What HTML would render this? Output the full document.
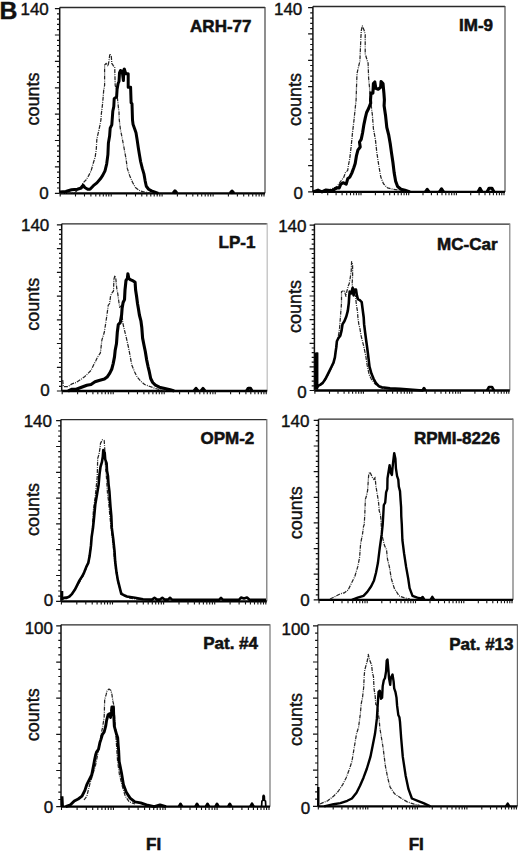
<!DOCTYPE html><html><head><meta charset="utf-8"><style>html,body{margin:0;padding:0;background:#fff;overflow:hidden;}svg{display:block}text{font-family:"Liberation Sans",sans-serif;fill:#111;stroke:#111;stroke-width:0.4px}</style></head><body>
<svg width="520" height="853" viewBox="0 0 520 853">
<text x="-0.5" y="19.2" style="font-weight:bold;font-size:24.8px">B</text>
<g><path d="M59.7 7.5H265" fill="none" stroke="#2a2a2a" stroke-width="1.3"/><path d="M265 6.9V193.3" fill="none" stroke="#444" stroke-width="1.2"/><path d="M59.7 193.3H265" stroke="#000" stroke-width="2.3"/><path d="M59.7 193.3V7.5" stroke="#111" stroke-width="1.5"/><path d="M54.9 193.3H59.7M57 188H59.7M57 182.7H59.7M57 177.5H59.7M57 172.2H59.7M54.9 166.9H59.7M57 161.6H59.7M57 156.4H59.7M57 151.1H59.7M57 145.8H59.7M54.9 140.5H59.7M57 135.3H59.7M57 130H59.7M57 124.7H59.7M57 119.4H59.7M54.9 114.1H59.7M57 108.9H59.7M57 103.6H59.7M57 98.3H59.7M57 93H59.7M54.9 87.8H59.7M57 82.5H59.7M57 77.2H59.7M57 71.9H59.7M57 66.6H59.7M54.9 61.4H59.7M57 56.1H59.7M57 50.8H59.7M57 45.5H59.7M57 40.3H59.7M54.9 35H59.7M57 29.7H59.7M57 24.4H59.7M57 19.2H59.7M57 13.9H59.7M54.9 8.6H59.7" stroke="#111" stroke-width="1.2"/><path d="M60.2 193.3v3.3M75.5 193.3v3.3M84.5 193.3v3.3M90.9 193.3v3.3M95.8 193.3v3.3M99.8 193.3v3.3M103.3 193.3v3.3M106.2 193.3v3.3M108.8 193.3v3.3M111.2 193.3v3.3M126.5 193.3v3.3M135.5 193.3v3.3M141.8 193.3v3.3M146.8 193.3v3.3M150.8 193.3v3.3M154.2 193.3v3.3M157.2 193.3v3.3M159.8 193.3v3.3M162.1 193.3v3.3M177.4 193.3v3.3M186.4 193.3v3.3M192.8 193.3v3.3M197.7 193.3v3.3M201.7 193.3v3.3M205.2 193.3v3.3M208.1 193.3v3.3M210.7 193.3v3.3M213.1 193.3v3.3M228.4 193.3v3.3M237.4 193.3v3.3M243.7 193.3v3.3M248.7 193.3v3.3M252.7 193.3v3.3M256.1 193.3v3.3M259.1 193.3v3.3M261.7 193.3v3.3M264 193.3v3.3" stroke="#111" stroke-width="1.1"/><polyline points="60,193.3 70,193 75,192.5 80,188 83.1,182.9 86,180 88.8,175.4 91.1,170.8 93.4,162.7 95.2,156.9 96.3,148.8 96.9,138.5 98.6,131.5 99.8,125.8 100.9,120 101.3,114.2 102.7,102.7 103.7,90.2 104.6,85.4 104.6,65.2 106.1,63.3 108,66.2 108.9,61.3 109.9,53.7 111.3,56.5 111.8,63.3 113.3,65.7 114.7,67.1 115.2,85.4 116.6,90.2 118.1,104.6 119,112.3 119.3,120 120.4,129.2 122.7,140.8 124.4,150 126.1,159.2 127.3,168.4 129.6,175.4 132.5,182.3 135.4,187.5 140,190.9 144.6,192.1 150,193" fill="none" stroke="#262626" stroke-width="1.25" stroke-dasharray="4 1.1 0.9 1.1" stroke-linejoin="round"/><path d="M60 192.1L65.8 191.5L71.5 189.8L77.3 189.2L81.3 188L83.1 185.2L84.8 187.5L87.7 189.2L90 189.2L93.4 185.7L96.9 182.9L100.4 178.8L102.7 175.4L105 170.8L106.7 163.8L107.9 154.6L108.4 143.1L109.6 136.1L110.2 128.1L111.8 124.8L112.8 111.3L113.8 106.5L114.2 98.8L116.6 96.9L117.1 89.2L118.1 83.5L119 81.5L119.5 72.9L120.5 70.5L122.4 72.9L123.4 80.6L123.8 70L124.3 69L125.8 73.8L128.2 73.8L128.2 87.3L130.6 87.3L131.1 102.7L132 103.7L132.5 120L133.1 124.6L134.8 129.2L136 132.7L137.1 139.6L138.3 147.7L139.4 154.6L140.6 161.5L142.3 168.4L144 174.2L145.2 181.1L146.3 186.3L148.6 189.2L151.5 190.9L155 192.1L158.4 193.3M173 193.3L175 190.8L177 193.3M230 193.3L232 191L234 193.3" fill="none" stroke="#000" stroke-width="3.0" stroke-linejoin="round"/><text x="251.5" y="31.6" text-anchor="end" style="font-weight:bold;font-size:17px;stroke-width:0.55px">ARH-77</text><text x="48.8" y="15" text-anchor="end" style="font-size:17px">140</text><text x="48.8" y="199" text-anchor="end" style="font-size:17px">0</text><text transform="translate(38.8,99) rotate(-90)" text-anchor="middle" style="font-size:18px">counts</text></g>
<g><path d="M312.9 6.5H505" fill="none" stroke="#2a2a2a" stroke-width="1.3"/><path d="M505 5.9V191.9" fill="none" stroke="#505050" stroke-width="1.2"/><path d="M312.9 191.9H505" stroke="#000" stroke-width="2.3"/><path d="M312.9 191.9V6.5" stroke="#111" stroke-width="1.5"/><path d="M308.1 191.9H312.9M310.2 186.6H312.9M310.2 181.4H312.9M310.2 176.1H312.9M310.2 170.8H312.9M308.1 165.6H312.9M310.2 160.3H312.9M310.2 155H312.9M310.2 149.8H312.9M310.2 144.5H312.9M308.1 139.2H312.9M310.2 134H312.9M310.2 128.7H312.9M310.2 123.4H312.9M310.2 118.2H312.9M308.1 112.9H312.9M310.2 107.6H312.9M310.2 102.4H312.9M310.2 97.1H312.9M310.2 91.9H312.9M308.1 86.6H312.9M310.2 81.3H312.9M310.2 76.1H312.9M310.2 70.8H312.9M310.2 65.5H312.9M308.1 60.3H312.9M310.2 55H312.9M310.2 49.7H312.9M310.2 44.5H312.9M310.2 39.2H312.9M308.1 33.9H312.9M310.2 28.7H312.9M310.2 23.4H312.9M310.2 18.1H312.9M310.2 12.9H312.9M308.1 7.6H312.9" stroke="#111" stroke-width="1.2"/><path d="M313.4 191.9v3.3M327.7 191.9v3.3M336.1 191.9v3.3M342.1 191.9v3.3M346.7 191.9v3.3M350.5 191.9v3.3M353.7 191.9v3.3M356.4 191.9v3.3M358.9 191.9v3.3M361 191.9v3.3M375.4 191.9v3.3M383.8 191.9v3.3M389.7 191.9v3.3M394.4 191.9v3.3M398.1 191.9v3.3M401.3 191.9v3.3M404.1 191.9v3.3M406.5 191.9v3.3M408.7 191.9v3.3M423 191.9v3.3M431.4 191.9v3.3M437.4 191.9v3.3M442 191.9v3.3M445.8 191.9v3.3M449 191.9v3.3M451.7 191.9v3.3M454.2 191.9v3.3M456.4 191.9v3.3M470.7 191.9v3.3M479.1 191.9v3.3M485 191.9v3.3M489.7 191.9v3.3M493.4 191.9v3.3M496.6 191.9v3.3M499.4 191.9v3.3M501.8 191.9v3.3M504 191.9v3.3" stroke="#111" stroke-width="1.1"/><polyline points="313,191 320,190.8 330,189.5 335.4,187.3 337,186.5 340.8,181.2 343.8,177.3 345.4,172.7 347.7,170.4 348.5,165 349.8,158.3 351.2,146.1 352.5,132.7 353.8,121.9 355.2,108.5 356.1,99.8 356.5,87.3 357,73.8 358,69 358.9,65.2 359.9,61.3 360.4,48.8 360.9,37.3 361.3,30.6 362.3,25.8 364.2,30.6 365.2,34.4 365.2,53.7 366.6,58.5 368.1,63.3 368.6,77.7 369.5,87.3 370.5,99.8 372.4,115.2 373.4,128.6 375.4,139.4 376.7,151.5 378.7,165 380.8,177.1 383.5,183.8 387.5,187.9 392.9,189.2 398.3,189.9 405,190.5" fill="none" stroke="#262626" stroke-width="1.25" stroke-dasharray="4 1.1 0.9 1.1" stroke-linejoin="round"/><path d="M313 191.9L318 190.1L322 191.9L326 190L330 190.6L333 190.2L337 187.9L339.2 188L340.8 184.2L343 182.7L346.2 184.2L347.7 178.8L349.8 177.1L351.8 173.1L353.8 167.7L355.2 163.6L356.5 155.6L357.9 150.2L360.2 147L359.5 142L361.2 139.4L362.6 132.7L363.9 124.6L365.3 117.9L366.6 112.5L368.6 108.5L370.7 103.1L370.5 99.8L371 93.1L372.9 93.1L373.4 83.5L374.8 82L375.8 88.3L378.2 89.2L380.6 87.3L381.1 81.5L383 83.5L383.9 93.1L384.4 99.8L384.1 105.8L385.5 115.2L386.8 127.3L388.8 135.4L390.2 143.5L391.5 152.9L392.9 162.3L394.2 173.1L395.6 181.1L397.6 186.5L401 189.2L405 190.2L410 191.9M425.5 191.9L427.2 189.3L429 191.9M439.5 191.9L441.5 188.8L443.5 191.9M478 191.9L480 188.3L482 191.9M487 191.9L489 188.3L492 188.3L494 191.9" fill="none" stroke="#000" stroke-width="3.1" stroke-linejoin="round"/><text x="493" y="30.8" text-anchor="end" style="font-weight:bold;font-size:17px;stroke-width:0.55px">IM-9</text><text x="302.3" y="15.4" text-anchor="end" style="font-size:17px">140</text><text x="303" y="199.4" text-anchor="end" style="font-size:17px">0</text><text transform="translate(301.3,99.6) rotate(-90)" text-anchor="middle" style="font-size:18px">counts</text></g>
<g><path d="M61.7 223.8H267.2" fill="none" stroke="#2a2a2a" stroke-width="1.3"/><path d="M267.2 223.2V391" fill="none" stroke="#bbb" stroke-width="1.2"/><path d="M61.7 391H267.2" stroke="#000" stroke-width="2.3"/><path d="M61.7 391V223.8" stroke="#111" stroke-width="1.5"/><path d="M56.9 391H61.7M59 386.3H61.7M59 381.5H61.7M59 376.8H61.7M59 372H61.7M56.9 367.3H61.7M59 362.5H61.7M59 357.8H61.7M59 353H61.7M59 348.3H61.7M56.9 343.5H61.7M59 338.8H61.7M59 334.1H61.7M59 329.3H61.7M59 324.6H61.7M56.9 319.8H61.7M59 315.1H61.7M59 310.3H61.7M59 305.6H61.7M59 300.8H61.7M56.9 296.1H61.7M59 291.3H61.7M59 286.6H61.7M59 281.8H61.7M59 277.1H61.7M56.9 272.4H61.7M59 267.6H61.7M59 262.9H61.7M59 258.1H61.7M59 253.4H61.7M56.9 248.6H61.7M59 243.9H61.7M59 239.1H61.7M59 234.4H61.7M59 229.6H61.7M56.9 224.9H61.7" stroke="#111" stroke-width="1.2"/><path d="M62.2 391v3.3M77.6 391v3.3M86.5 391v3.3M92.9 391v3.3M97.8 391v3.3M101.9 391v3.3M105.3 391v3.3M108.3 391v3.3M110.9 391v3.3M113.2 391v3.3M128.6 391v3.3M137.5 391v3.3M143.9 391v3.3M148.8 391v3.3M152.9 391v3.3M156.3 391v3.3M159.3 391v3.3M161.9 391v3.3M164.2 391v3.3M179.6 391v3.3M188.5 391v3.3M194.9 391v3.3M199.8 391v3.3M203.9 391v3.3M207.3 391v3.3M210.3 391v3.3M212.9 391v3.3M215.2 391v3.3M230.6 391v3.3M239.5 391v3.3M245.9 391v3.3M250.8 391v3.3M254.9 391v3.3M258.3 391v3.3M261.3 391v3.3M263.9 391v3.3M266.2 391v3.3" stroke="#111" stroke-width="1.1"/><polyline points="62.7,380 63.3,386.5 68.1,386.5 72.1,383.8 76.2,382.5 80.2,379.8 84.2,377.1 88.3,373.1 91,370.4 93.6,365 95.7,361 97.7,356.9 100.4,352.9 101.9,340 104.3,332.3 105.8,322.7 107.2,313.1 108.2,305.4 109.6,303.5 110.6,295.8 112,292.9 113.5,291 113.9,279.4 114.9,275.6 115.9,279.4 116.8,289 117.8,293.8 118.8,301.5 119.7,307.3 121.6,305.4 122.6,321.7 123.6,326.5 125,332.3 126.4,338.1 128.5,347.5 129.8,354.2 131.8,365 134.5,371.7 137.2,377.1 140.6,381.1 144.6,384.5 150,386.5 155.4,388.5 160.8,389.9 166,390.5" fill="none" stroke="#262626" stroke-width="1.25" stroke-dasharray="4 1.1 0.9 1.1" stroke-linejoin="round"/><path d="M68.1 391L72.1 389.2L76.2 389.2L81.5 387.2L86.9 385.2L91 384.5L95 381.8L99 380.5L104.4 379.1L107.1 377.1L109.8 373.1L111.8 369L113.2 363.6L114.5 356.9L115.2 350.2L116.5 343.5L117.3 332.3L118.3 324.6L120.2 322.7L121.6 315L122.1 308.3L123.1 302.5L124.5 299.6L125 290L126 280.4L127.4 278.5L127.9 273.7L128.8 278.5L130.8 279.9L133.2 280.9L135.1 282.3L135.6 290L136.5 295.8L137.5 303.5L138.5 309.2L139.4 315L140.9 320.8L141.8 327.5L142.6 338.1L143.9 344.8L145.3 351.5L146.6 359.6L148 366.3L149.3 371.7L150.7 378.5L152.7 382.5L155.4 385.2L159.4 387.2L164.8 388.5L170.2 389.7L174.2 391M194 391L196 388.3L198 391M201 391L203 388.5L205 391M246.5 391L248.3 388.2L250.5 388.2L252 391" fill="none" stroke="#000" stroke-width="3.1" stroke-linejoin="round"/><text x="255.4" y="248" text-anchor="end" style="font-weight:bold;font-size:17px;stroke-width:0.55px">LP-1</text><text x="49.3" y="230.9" text-anchor="end" style="font-size:17px">140</text><text x="49.8" y="396.2" text-anchor="end" style="font-size:17px">0</text><text transform="translate(38.8,304.3) rotate(-90)" text-anchor="middle" style="font-size:18px">counts</text></g>
<g><path d="M314.4 224.1H509.8" fill="none" stroke="#2a2a2a" stroke-width="1.3"/><path d="M509.8 223.5V390.5" fill="none" stroke="#808080" stroke-width="1.2"/><path d="M314.4 390.5H509.8" stroke="#000" stroke-width="2.3"/><path d="M314.4 390.5V224.1" stroke="#111" stroke-width="1.5"/><path d="M309.6 390.5H314.4M311.7 385.8H314.4M311.7 381.1H314.4M311.7 376.3H314.4M311.7 371.6H314.4M309.6 366.9H314.4M311.7 362.2H314.4M311.7 357.4H314.4M311.7 352.7H314.4M311.7 348H314.4M309.6 343.3H314.4M311.7 338.5H314.4M311.7 333.8H314.4M311.7 329.1H314.4M311.7 324.4H314.4M309.6 319.7H314.4M311.7 314.9H314.4M311.7 310.2H314.4M311.7 305.5H314.4M311.7 300.8H314.4M309.6 296H314.4M311.7 291.3H314.4M311.7 286.6H314.4M311.7 281.9H314.4M311.7 277.2H314.4M309.6 272.4H314.4M311.7 267.7H314.4M311.7 263H314.4M311.7 258.3H314.4M311.7 253.5H314.4M309.6 248.8H314.4M311.7 244.1H314.4M311.7 239.4H314.4M311.7 234.6H314.4M311.7 229.9H314.4M309.6 225.2H314.4" stroke="#111" stroke-width="1.2"/><path d="M314.9 390.5v3.3M329.5 390.5v3.3M338 390.5v3.3M344.1 390.5v3.3M348.8 390.5v3.3M352.6 390.5v3.3M355.9 390.5v3.3M358.7 390.5v3.3M361.2 390.5v3.3M363.4 390.5v3.3M378 390.5v3.3M386.5 390.5v3.3M392.6 390.5v3.3M397.3 390.5v3.3M401.1 390.5v3.3M404.3 390.5v3.3M407.2 390.5v3.3M409.6 390.5v3.3M411.9 390.5v3.3M426.4 390.5v3.3M435 390.5v3.3M441 390.5v3.3M445.7 390.5v3.3M449.6 390.5v3.3M452.8 390.5v3.3M455.6 390.5v3.3M458.1 390.5v3.3M460.3 390.5v3.3M474.9 390.5v3.3M483.5 390.5v3.3M489.5 390.5v3.3M494.2 390.5v3.3M498 390.5v3.3M501.3 390.5v3.3M504.1 390.5v3.3M506.6 390.5v3.3M508.8 390.5v3.3" stroke="#111" stroke-width="1.1"/><polyline points="317.5,386.5 320,385 325.5,380 329.5,372 333.5,363.5 335.6,353 337.5,340 338.9,333.1 339.6,327.7 340.6,314.6 341.5,303.1 341.5,291.5 344.4,290.6 345.9,296.3 346.8,291.5 348.3,285.8 349.2,283.8 350.2,278.1 351.2,271.3 351.6,261.7 352.6,264.6 352.6,277.1 352.1,283.8 353.6,292.5 355.5,296.3 356.4,305 357.4,310.8 357.9,317.5 358.8,324.2 359.8,328 361.1,335.8 363.8,346.5 365.8,356 367.2,365.4 369.2,374.8 371.2,378.8 375.3,384.2 380,387.5 386,389" fill="none" stroke="#262626" stroke-width="1.25" stroke-dasharray="4 1.1 0.9 1.1" stroke-linejoin="round"/><path d="M317 352.6L317 387.5L318.5 385.6L320.1 384.9L322.8 382.9L325.5 378.8L327.5 374.8L329.5 370.8L331.5 366.7L333.5 362.7L334.9 357.3L335.6 351.9L336.2 347.9L336.9 341.2L338.2 338.5L340.3 335.8L341.6 330.4L342.5 324.2L344.4 321.3L346.3 316.5L347.8 310.8L348.8 303.1L349.2 296.3L349.7 291.5L351.2 293.5L352.6 287.7L353.6 295.4L354.5 289.6L356 289.6L356.9 295.4L357.9 299.2L359.8 300.2L361.7 302.1L362.7 309.8L363.7 317.5L364.1 324.2L365.2 333.1L366.1 339.8L367.2 347.9L368.4 357.3L369.5 366.7L371.4 373.5L373.6 378.8L375.8 382.9L378.8 386.2L382 387.2L390 388.4L400 388.8L422.5 390.5L424 388L425.5 390.5M487 390.5L489 387L492 387L494 390.5" fill="none" stroke="#000" stroke-width="2.6" stroke-linejoin="round"/><rect x="314.6" y="352.6" width="3.6" height="37" fill="#000"/><text x="497.5" y="250" text-anchor="end" style="font-weight:bold;font-size:17px;stroke-width:0.55px">MC-Car</text><text x="306.5" y="232.3" text-anchor="end" style="font-size:17px">140</text><text x="306.7" y="397.7" text-anchor="end" style="font-size:17px">0</text><text transform="translate(301.3,306.6) rotate(-90)" text-anchor="middle" style="font-size:18px">counts</text></g>
<g><path d="M60.9 419.6H266.8" fill="none" stroke="#2a2a2a" stroke-width="1.3"/><path d="M266.8 419V601.3" fill="none" stroke="#707070" stroke-width="1.2"/><path d="M60.9 601.3H266.8" stroke="#000" stroke-width="2.3"/><path d="M60.9 601.3V419.6" stroke="#111" stroke-width="1.5"/><path d="M56.1 601.3H60.9M58.2 596.1H60.9M58.2 591H60.9M58.2 585.8H60.9M58.2 580.7H60.9M56.1 575.5H60.9M58.2 570.3H60.9M58.2 565.2H60.9M58.2 560H60.9M58.2 554.9H60.9M56.1 549.7H60.9M58.2 544.5H60.9M58.2 539.4H60.9M58.2 534.2H60.9M58.2 529.1H60.9M56.1 523.9H60.9M58.2 518.7H60.9M58.2 513.6H60.9M58.2 508.4H60.9M58.2 503.3H60.9M56.1 498.1H60.9M58.2 492.9H60.9M58.2 487.8H60.9M58.2 482.6H60.9M58.2 477.5H60.9M56.1 472.3H60.9M58.2 467.1H60.9M58.2 462H60.9M58.2 456.8H60.9M58.2 451.7H60.9M56.1 446.5H60.9M58.2 441.3H60.9M58.2 436.2H60.9M58.2 431H60.9M58.2 425.9H60.9M56.1 420.7H60.9" stroke="#111" stroke-width="1.2"/><path d="M61.4 601.3v3.3M76.8 601.3v3.3M85.8 601.3v3.3M92.2 601.3v3.3M97.1 601.3v3.3M101.2 601.3v3.3M104.6 601.3v3.3M107.5 601.3v3.3M110.2 601.3v3.3M112.5 601.3v3.3M127.9 601.3v3.3M136.9 601.3v3.3M143.3 601.3v3.3M148.2 601.3v3.3M152.3 601.3v3.3M155.7 601.3v3.3M158.6 601.3v3.3M161.3 601.3v3.3M163.6 601.3v3.3M179 601.3v3.3M188 601.3v3.3M194.4 601.3v3.3M199.3 601.3v3.3M203.4 601.3v3.3M206.8 601.3v3.3M209.7 601.3v3.3M212.4 601.3v3.3M214.7 601.3v3.3M230.1 601.3v3.3M239.1 601.3v3.3M245.5 601.3v3.3M250.4 601.3v3.3M254.5 601.3v3.3M257.9 601.3v3.3M260.8 601.3v3.3M263.5 601.3v3.3M265.8 601.3v3.3" stroke="#111" stroke-width="1.1"/><polyline points="64,597.5 70,596.3 76,588 82,578 86.5,568 89.3,559 90.8,548 92.3,530 93.4,510 95.3,496 97.2,477.2 97.7,458.5 99.1,453.8 100,448.1 100.5,443.4 102.4,439.7 104.2,440.6 104.7,448.1 105.6,467.8 106.6,479.1 107.5,493.2 108.5,500.7 109.5,512 110.8,525 112.3,538 113.6,550 114.6,562 116,572 117.5,580 119.3,587.5 121,592 124,595.5 130,598.2 140,599.5" fill="none" stroke="#262626" stroke-width="1.25" stroke-dasharray="4 1.1 0.9 1.1" stroke-linejoin="round"/><path d="M62 591L62 599.2L64.1 597.9L66.7 597.9L69.4 596.5L72.1 593.8L74.8 589.8L76.8 585.8L79.5 580.4L82.2 576.3L84.2 572.3L86.3 566.9L88.3 562.9L89.6 556.1L91 545.4L91.6 537.3L93 527.9L94 518L95.3 504.4L97.2 493.2L98.6 484.7L99.5 474.4L100.5 466.9L101.9 462.2L102.8 456.6L103.3 450L104.7 452.8L105.2 459.4L106.6 463.1L107 470.6L108 476.3L108.5 483.8L109.4 491.3L109.9 498.8L110.5 507L111.3 515.8L111.8 527.9L113.2 538.6L114.5 550.8L115.2 561.5L116.5 572.3L117.9 580.4L119.9 588.4L121.3 593.8L124 595.2L126.9 596.5L135 597.7L143 599.2L152 599.6L154.5 597.8L157 599.6L160 599.6L162.3 597.8L164.5 599.6L168 599.6L170 597.8L172 599.6L219 599.8L221 597.8L223 599.8L239 599.8L241 597.5L244 598.5L247 597.5L249.5 599.8L266 599.8" fill="none" stroke="#000" stroke-width="2.6" stroke-linejoin="round"/><text x="254.3" y="443.8" text-anchor="end" style="font-weight:bold;font-size:17px;stroke-width:0.55px">OPM-2</text><text x="52" y="426.9" text-anchor="end" style="font-size:17px">140</text><text x="53.3" y="606.3" text-anchor="end" style="font-size:17px">0</text><text transform="translate(38.8,509.6) rotate(-90)" text-anchor="middle" style="font-size:18px">counts</text></g>
<g><path d="M318.5 419.2H513" fill="none" stroke="#2a2a2a" stroke-width="1.3"/><path d="M513 418.6V599.9" fill="none" stroke="#707070" stroke-width="1.2"/><path d="M318.5 599.9H513" stroke="#000" stroke-width="2.3"/><path d="M318.5 599.9V419.2" stroke="#111" stroke-width="1.5"/><path d="M313.7 599.9H318.5M315.8 594.8H318.5M315.8 589.6H318.5M315.8 584.5H318.5M315.8 579.4H318.5M313.7 574.2H318.5M315.8 569.1H318.5M315.8 564H318.5M315.8 558.8H318.5M315.8 553.7H318.5M313.7 548.6H318.5M315.8 543.5H318.5M315.8 538.3H318.5M315.8 533.2H318.5M315.8 528.1H318.5M313.7 522.9H318.5M315.8 517.8H318.5M315.8 512.7H318.5M315.8 507.5H318.5M315.8 502.4H318.5M313.7 497.3H318.5M315.8 492.1H318.5M315.8 487H318.5M315.8 481.9H318.5M315.8 476.7H318.5M313.7 471.6H318.5M315.8 466.5H318.5M315.8 461.4H318.5M315.8 456.2H318.5M315.8 451.1H318.5M313.7 446H318.5M315.8 440.8H318.5M315.8 435.7H318.5M315.8 430.6H318.5M315.8 425.4H318.5M313.7 420.3H318.5" stroke="#111" stroke-width="1.2"/><path d="M319 599.9v3.3M333.5 599.9v3.3M342 599.9v3.3M348 599.9v3.3M352.7 599.9v3.3M356.5 599.9v3.3M359.8 599.9v3.3M362.6 599.9v3.3M365 599.9v3.3M367.2 599.9v3.3M381.8 599.9v3.3M390.3 599.9v3.3M396.3 599.9v3.3M401 599.9v3.3M404.8 599.9v3.3M408 599.9v3.3M410.8 599.9v3.3M413.3 599.9v3.3M415.5 599.9v3.3M430 599.9v3.3M438.5 599.9v3.3M444.5 599.9v3.3M449.2 599.9v3.3M453 599.9v3.3M456.3 599.9v3.3M459.1 599.9v3.3M461.5 599.9v3.3M463.8 599.9v3.3M478.3 599.9v3.3M486.8 599.9v3.3M492.8 599.9v3.3M497.5 599.9v3.3M501.3 599.9v3.3M504.5 599.9v3.3M507.3 599.9v3.3M509.8 599.9v3.3M512 599.9v3.3" stroke="#111" stroke-width="1.1"/><polyline points="330,599 332.7,597.7 336.5,595.8 340.4,593.8 344.2,592.9 348.1,590 351.9,582.3 354.8,576.5 357.7,566.9 359.6,557.3 360.6,543.8 362.5,534.2 363.5,526.5 364.2,524.6 364.8,514.2 365.4,499.2 366.5,495.7 367.7,490 368.3,479.6 368.8,473.8 370,472.1 372.3,477.3 374,479.6 375.2,477.3 375.8,485.4 377.5,495.7 378.6,502.7 379.2,510.7 380.4,514.2 381,520 381.7,534.2 384.6,545.8 386.5,549.6 387.5,559.2 389.4,566.9 391.3,578.5 394.2,588.1 399,595.8 403.8,597.7 410,599" fill="none" stroke="#262626" stroke-width="1.25" stroke-dasharray="4 1.1 0.9 1.1" stroke-linejoin="round"/><path d="M351.9 599.9L357.7 597.7L363.5 595.8L367.3 591.9L371.2 586.2L374 580.4L376 572.7L377.9 563.1L379.8 547.7L381.7 534.2L382.7 524.6L383.3 514.2L383.8 505L385.2 502.7L386.1 492.3L387.3 488.8L387.5 478.4L388.4 472.7L389.6 465.2L390.8 472.7L391.9 475L392.5 468.1L393.1 462.3L394.2 453.1L395.4 458.8L395.9 468.1L397.1 476.1L398.3 479.6L398.8 486.5L400 491.1L400.6 500.4L401.1 507.3L401.3 516.5L401.8 524.6L402.4 540L404.1 553.5L406.1 566.9L408.2 578.5L409.6 588.1L412.5 595.8L417.3 597.7L421 598.5L422.7 597L424.5 599.9M430.5 599.9L432.3 596.8L434.2 599.9" fill="none" stroke="#000" stroke-width="2.4" stroke-linejoin="round"/><text x="499.9" y="443.7" text-anchor="end" style="font-weight:bold;font-size:17px;stroke-width:0.55px">RPMI-8226</text><text x="309.4" y="427" text-anchor="end" style="font-size:17px">140</text><text x="309.6" y="606.3" text-anchor="end" style="font-size:17px">0</text><text transform="translate(301.7,512.8) rotate(-90)" text-anchor="middle" style="font-size:18px">counts</text></g>
<g><path d="M61 624.8H270" fill="none" stroke="#2a2a2a" stroke-width="1.3"/><path d="M270 624.2V806.7" fill="none" stroke="#757575" stroke-width="1.2"/><path d="M61 806.7H270" stroke="#000" stroke-width="2.3"/><path d="M61 806.7V624.8" stroke="#111" stroke-width="1.5"/><path d="M56.2 806.7H61M58.3 799.5H61M58.3 792.2H61M58.3 785H61M58.3 777.8H61M56.2 770.5H61M58.3 763.3H61M58.3 756.1H61M58.3 748.8H61M58.3 741.6H61M56.2 734.4H61M58.3 727.1H61M58.3 719.9H61M58.3 712.7H61M58.3 705.5H61M56.2 698.2H61M58.3 691H61M58.3 683.8H61M58.3 676.5H61M58.3 669.3H61M56.2 662.1H61M58.3 654.8H61M58.3 647.6H61M58.3 640.4H61M58.3 633.1H61M56.2 625.9H61" stroke="#111" stroke-width="1.2"/><path d="M61.5 806.7v3.3M77.1 806.7v3.3M86.3 806.7v3.3M92.7 806.7v3.3M97.8 806.7v3.3M101.9 806.7v3.3M105.3 806.7v3.3M108.3 806.7v3.3M111 806.7v3.3M113.4 806.7v3.3M129 806.7v3.3M138.1 806.7v3.3M144.6 806.7v3.3M149.6 806.7v3.3M153.7 806.7v3.3M157.2 806.7v3.3M160.2 806.7v3.3M162.9 806.7v3.3M165.2 806.7v3.3M180.9 806.7v3.3M190 806.7v3.3M196.5 806.7v3.3M201.5 806.7v3.3M205.6 806.7v3.3M209.1 806.7v3.3M212.1 806.7v3.3M214.8 806.7v3.3M217.1 806.7v3.3M232.7 806.7v3.3M241.9 806.7v3.3M248.4 806.7v3.3M253.4 806.7v3.3M257.5 806.7v3.3M261 806.7v3.3M264 806.7v3.3M266.6 806.7v3.3M269 806.7v3.3" stroke="#111" stroke-width="1.1"/><polyline points="84,800 86.8,796.2 89.7,784.6 92.6,775 95.5,765.4 97.4,755.8 99.5,745 101,735 102.8,726.2 104.2,716.5 104.7,699.2 106.2,694.4 107.1,690.6 109,689.1 111,690.6 111.9,694.4 112.9,701.2 113.8,705 114.5,715 115.5,730 116.5,745 117.6,761.5 119.5,775 122.4,786.5 125.3,796.2 129.2,801.9 135,804" fill="none" stroke="#262626" stroke-width="1.25" stroke-dasharray="4 1.1 0.9 1.1" stroke-linejoin="round"/><path d="M62 796.2L62.5 806.7M65.7 806.7L70.5 804.8L74.3 801L78.2 799L82 796.2L84.9 790.4L86.8 784.6L88.8 780.8L91.7 775L93.6 765.4L94.6 759.8L95.6 755L96.5 752.1L98.5 749.2L99.9 742.5L100.9 739.6L102.3 734.8L104.2 731.9L105.7 726.2L106.6 720.4L108.1 714.6L109.5 713.7L110.5 717.5L111.4 711.7L111.9 706.9L113.4 706.9L113.8 716.5L114.3 726.2L115.3 730L116.7 734.8L117.7 737.7L118.2 745.4L118.7 751.2L119.2 761.5L121.5 773.1L123.4 784.6L126.3 792.3L130.1 798.1L134.9 801.9L140.7 802.9L146.5 804.8L154.2 806.7L160 805L166 806.7M179 806.7L180.5 804L182 806.7M195.5 806.7L197 804L198.5 806.7M206 806.7L207.5 804L209 806.7M215.5 806.7L217 804L218.5 806.7M228.3 806.7L229.8 804L231.3 806.7M250.5 806.7L252 803.8L253.5 806.7" fill="none" stroke="#000" stroke-width="2.9" stroke-linejoin="round"/><path d="M261.6 806.5L261.9 801.2L262.9 800.3L263 796.3Q263.6 794.6 264.3 796.3L264.5 800.3L265.5 801.2L265.8 806.5" fill="none" stroke="#000" stroke-width="1.7"/><text x="258" y="649.2" text-anchor="end" style="font-weight:bold;font-size:17px;stroke-width:0.55px">Pat. #4</text><text x="53" y="634.2" text-anchor="end" style="font-size:17px">100</text><text x="53.1" y="813.3" text-anchor="end" style="font-size:17px">0</text><text transform="translate(39.2,714.7) rotate(-90)" text-anchor="middle" style="font-size:18px">counts</text></g>
<g><path d="M317.8 624.8H517.4" fill="none" stroke="#2a2a2a" stroke-width="1.3"/><path d="M517.4 624.2V806.3" fill="none" stroke="#666" stroke-width="1.2"/><path d="M317.8 806.3H517.4" stroke="#000" stroke-width="2.3"/><path d="M317.8 806.3V624.8" stroke="#111" stroke-width="1.1"/><path d="M313 806.3H317.8M315.1 799.1H317.8M315.1 791.9H317.8M315.1 784.7H317.8M315.1 777.4H317.8M313 770.2H317.8M315.1 763H317.8M315.1 755.8H317.8M315.1 748.6H317.8M315.1 741.4H317.8M313 734.1H317.8M315.1 726.9H317.8M315.1 719.7H317.8M315.1 712.5H317.8M315.1 705.3H317.8M313 698.1H317.8M315.1 690.8H317.8M315.1 683.6H317.8M315.1 676.4H317.8M315.1 669.2H317.8M313 662H317.8M315.1 654.8H317.8M315.1 647.5H317.8M315.1 640.3H317.8M315.1 633.1H317.8M313 625.9H317.8" stroke="#111" stroke-width="1.2"/><path d="M318.3 806.3v3.3M333.2 806.3v3.3M341.9 806.3v3.3M348.1 806.3v3.3M352.9 806.3v3.3M356.8 806.3v3.3M360.2 806.3v3.3M363 806.3v3.3M365.6 806.3v3.3M367.8 806.3v3.3M382.7 806.3v3.3M391.5 806.3v3.3M397.6 806.3v3.3M402.4 806.3v3.3M406.4 806.3v3.3M409.7 806.3v3.3M412.6 806.3v3.3M415.1 806.3v3.3M417.4 806.3v3.3M432.3 806.3v3.3M441 806.3v3.3M447.2 806.3v3.3M452 806.3v3.3M455.9 806.3v3.3M459.2 806.3v3.3M462.1 806.3v3.3M464.6 806.3v3.3M466.9 806.3v3.3M481.8 806.3v3.3M490.5 806.3v3.3M496.7 806.3v3.3M501.5 806.3v3.3M505.4 806.3v3.3M508.7 806.3v3.3M511.6 806.3v3.3M514.1 806.3v3.3M516.4 806.3v3.3" stroke="#111" stroke-width="1.1"/><polyline points="320,804 321.9,803.1 327.7,800.8 333.5,796.2 338.1,791.5 342.7,784.6 346.2,777.7 349.6,768.5 351.9,761.5 354.2,747.7 356.5,733.8 358.5,727.6 360.2,714.9 361.3,703.4 362.5,697.6 363.7,687.2 364.2,675.7 364.8,669.9 366,665.3 367.1,661.8 368.3,654.3 369.4,659.5 371.7,665.3 372.3,672.2 373.5,676.8 374,688.4 375.2,696.4 375.8,704.5 377.5,705.7 378.1,712.6 379.2,719.5 379.8,727.6 380.8,733.8 383.1,747.7 385.4,766.2 387.7,777.7 390,786.9 394.6,793.8 401.5,798.5 407.3,801.9 414.2,804.2 420,805.5" fill="none" stroke="#262626" stroke-width="1.25" stroke-dasharray="4 1.1 0.9 1.1" stroke-linejoin="round"/><path d="M318.3 787L318.3 806.3M324.2 806.3L333.5 804.2L340.4 803.1L347.3 800.8L351.9 798.5L356.5 792.7L360 785.8L363.5 777.7L366.9 768.5L370.4 756.9L372.7 745.4L375 733.8L375.8 727.6L376.9 718.4L377.5 708L378.1 698.7L378.6 691.8L379.8 690.7L381 698.7L382.1 697.6L382.7 686.1L383.8 680.3L385 678L386.1 671.1L386.7 660.7L387.5 659.5L388.4 669.9L389 678L390.2 684.9L390.8 678L392.5 674.5L393.6 681.4L394.2 688.4L395.4 691.8L396.5 697.6L397.1 705.7L398.3 714.9L399.4 717.2L400 721.8L401.2 738.5L402.8 756.9L405.6 775.4L408.5 789.2L411.9 798.5L417.7 800.8L423.5 803.1L430.4 806.3M506 806.3L507.7 803.5L509.4 806.3" fill="none" stroke="#000" stroke-width="2.4" stroke-linejoin="round"/><text x="513.5" y="649.5" text-anchor="end" style="font-weight:bold;font-size:17px;stroke-width:0.55px">Pat. #13</text><text x="309.8" y="634.8" text-anchor="end" style="font-size:17px">100</text><text x="310.1" y="814" text-anchor="end" style="font-size:17px">0</text><text transform="translate(301.7,719.5) rotate(-90)" text-anchor="middle" style="font-size:18px">counts</text></g>
<text x="146" y="850.2" style="font-weight:bold;font-size:17px;stroke-width:0.55px">FI</text>
<text x="408.7" y="849.8" style="font-weight:bold;font-size:17px;stroke-width:0.55px">FI</text>
</svg></body></html>
